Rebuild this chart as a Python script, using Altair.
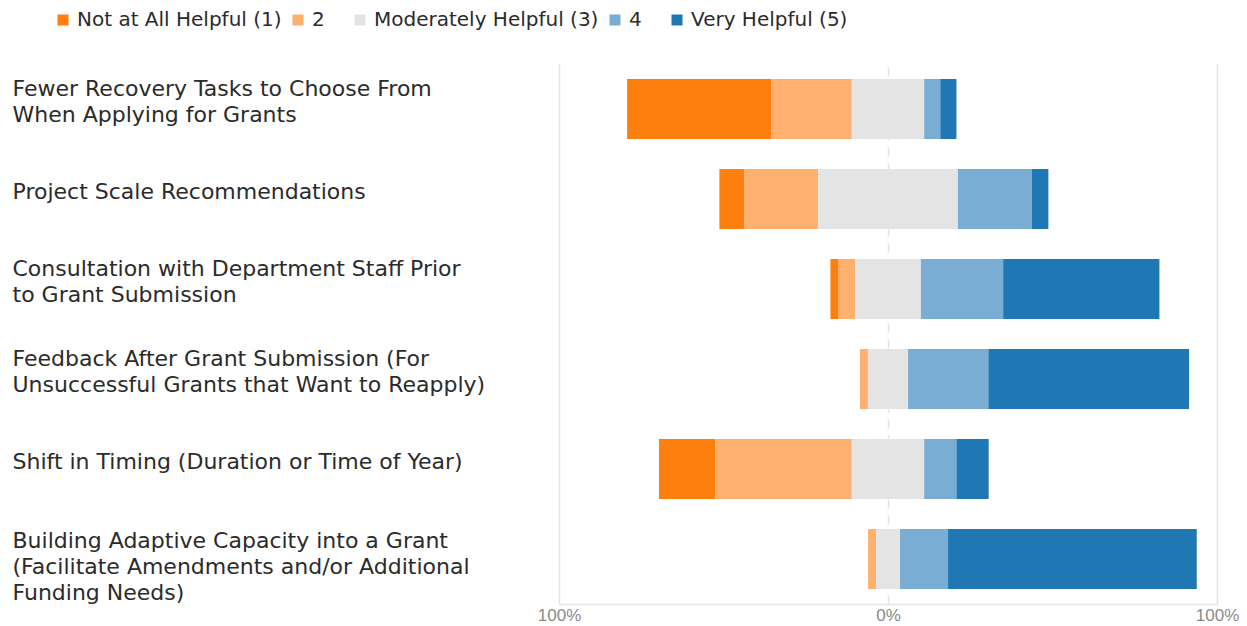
import altair as alt
import pandas as pd

# Survey items (line breaks mark where the axis label wraps)
questions = [
    "Fewer Recovery Tasks to Choose From\nWhen Applying for Grants",
    "Project Scale Recommendations",
    "Consultation with Department Staff Prior\nto Grant Submission",
    "Feedback After Grant Submission (For\nUnsuccessful Grants that Want to Reapply)",
    "Shift in Timing (Duration or Time of Year)",
    "Building Adaptive Capacity into a Grant\n(Facilitate Amendments and/or Additional\nFunding Needs)",
]

levels = ["Not at All Helpful (1)", "2", "Moderately Helpful (3)", "4", "Very Helpful (5)"]
level_colors = ["#ff7f0e", "#feb06e", "#e4e4e4", "#7aadd3", "#1f77b4"]

# Share of responses (%) per rating, one value per survey item
not_helpful = [43.9, 7.5, 2.5, 0.0, 17.1, 0.0]
rating_2 = [24.4, 22.5, 5.0, 2.4, 41.5, 2.4]
moderately = [22.0, 42.5, 20.0, 12.2, 22.0, 7.3]
rating_4 = [4.9, 22.5, 25.0, 24.4, 9.8, 14.6]
very_helpful = [4.9, 5.0, 47.5, 61.0, 9.8, 75.6]

series = [not_helpful, rating_2, moderately, rating_4, very_helpful]

# Diverging layout: the neutral rating is split evenly around zero
rows = []
for qi, q in enumerate(questions):
    vals = [s[qi] for s in series]
    start = -(vals[0] + vals[1] + vals[2] / 2)
    for li, (lvl, v) in enumerate(zip(levels, vals)):
        if v > 0:
            rows.append({"question": q, "level": lvl, "rank": li,
                         "start": start, "end": start + v})
        start += v
df = pd.DataFrame(rows)

# wider slot after the single-digit legend entries; the trailing zero-width
# character keeps the padding from being trimmed away
pad = "\u00a0" * 3 + "\u200b"
line_count = "length(split(datum.label, '\\n'))"

chart = alt.Chart(df).mark_bar().encode(
    x=alt.X(
        "start:Q",
        scale=alt.Scale(domain=[-100, 100], nice=False, zero=False),
        axis=alt.Axis(
            title=None,
            values=[-100, 0, 100],
            labelExpr="abs(datum.value) + '%'",
            labelFlush=False,
            grid=True,
            gridColor="#e4e4e4",
            gridWidth=1.5,
            gridDash={"condition": {"test": "datum.value === 0", "value": [9, 7]}, "value": []},
            ticks=False,
            domainColor="#e6e6e6",
            domainWidth=1.5,
            labelColor="#8a8a8a",
            labelFont="Liberation Sans",
            labelFontSize=17,
            labelPadding=3,
        ),
    ),
    x2="end:Q",
    y=alt.Y(
        "question:N",
        sort=questions,
        scale=alt.Scale(paddingInner=1 / 3, paddingOuter=1 / 6),
        axis=alt.Axis(
            title=None,
            domain=False,
            ticks=False,
            tickSize=0,
            labelAlign="left",
            labelBaseline="middle",
            labelPadding=547,
            labelLimit=700,
            labelExpr="split(datum.label, '\\n')",
            labelFont="DejaVu Sans",
            labelFontSize=22,
            labelLineHeight=26,
            labelColor="#2b2b2b",
            # multi-line labels start at the anchor, so lift them by their extra lines
            labelOffset={
                "condition": [
                    {"test": line_count + " == 3", "value": -18},
                    {"test": line_count + " == 2", "value": -20},
                ],
                "value": -7,
            },
        ),
    ),
    color=alt.Color(
        "level:N",
        scale=alt.Scale(domain=levels, range=level_colors),
        legend=alt.Legend(
            title=None,
            orient="none",
            legendX=-506,
            legendY=-54,
            direction="horizontal",
            symbolType="square",
            symbolSize=121,
            symbolStrokeWidth=0,
            labelFont="DejaVu Sans",
            labelFontSize=20,
            labelColor="#2b2b2b",
            labelOffset=4,
            columnPadding=6,
            padding=0,
            labelLimit=400,
            labelExpr="length(datum.label) == 1 ? datum.label + '" + pad + "' : datum.label",
        ),
    ),
    order=alt.Order("rank:Q"),
).properties(
    width=658,
    height=540,
    padding={"left": 12, "top": 10, "right": 5, "bottom": 3},
    background="white",
).configure_view(stroke=None)

chart.save("out.html", embed_options={"renderer": "svg", "actions": False})
